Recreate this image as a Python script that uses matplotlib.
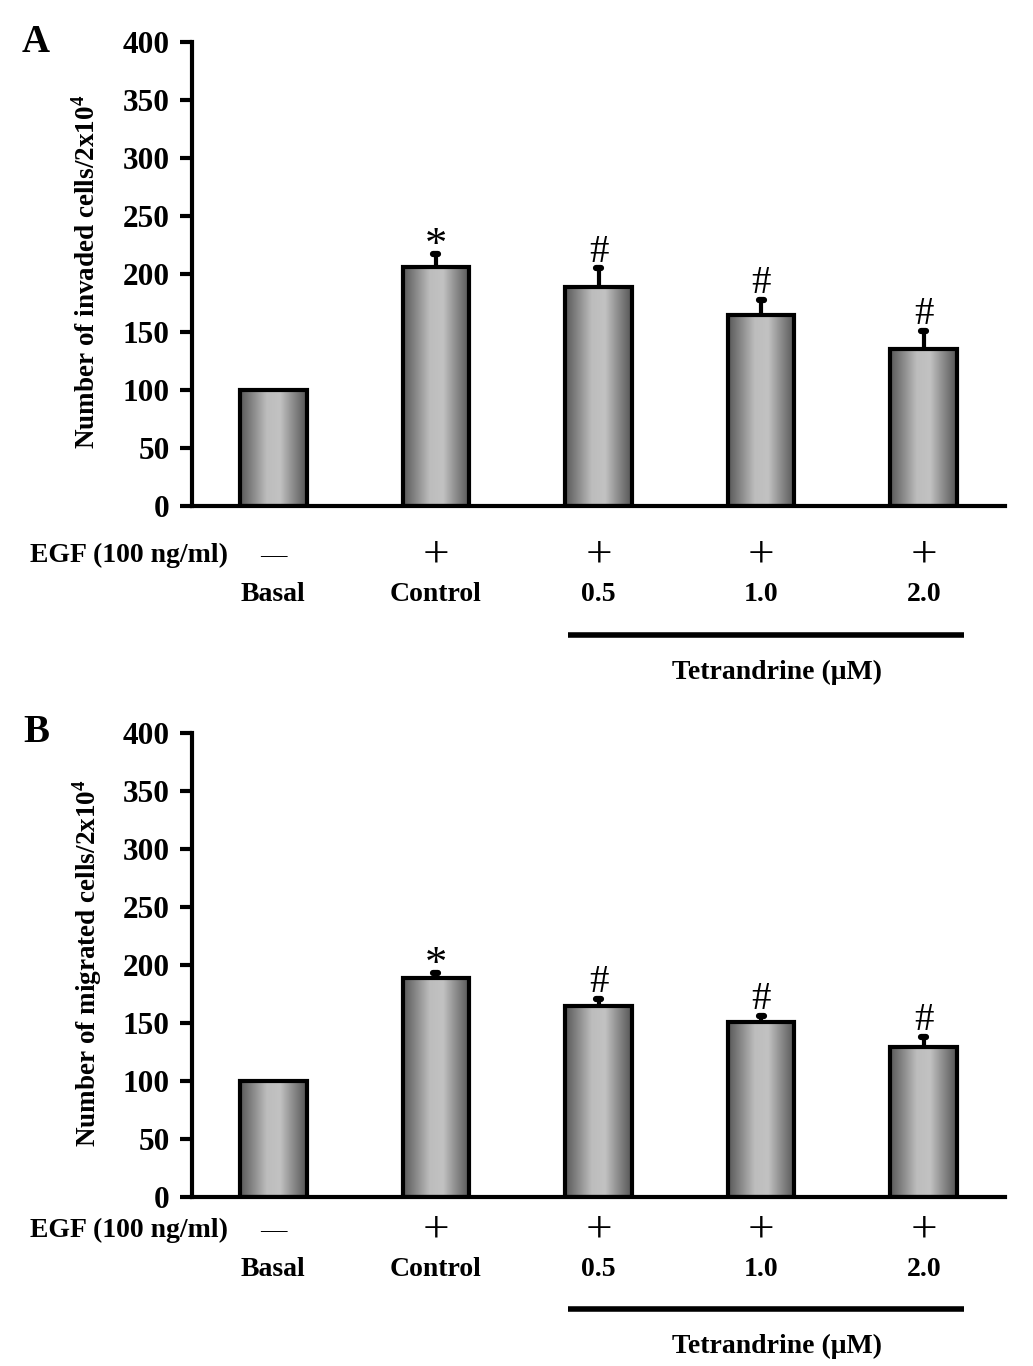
import numpy as np
import matplotlib
matplotlib.use("Agg")
import matplotlib.pyplot as plt
from matplotlib.colors import LinearSegmentedColormap

plt.rcParams['font.family'] = ['Liberation Serif', 'DejaVu Serif']
plt.rcParams['mathtext.fontset'] = 'custom'
plt.rcParams['mathtext.rm'] = 'Liberation Serif:bold'
plt.rcParams['mathtext.bf'] = 'Liberation Serif:bold'

# data
groups = ["Basal", "Control", "0.5", "1.0", "2.0"]
egf = ["\u2014", "+", "+", "+", "+"]
invaded = [100, 206, 189, 165, 135]
invaded_err = [0, 11, 16, 13, 16]
migrated = [100, 189, 165, 151, 129]
migrated_err = [0, 4, 6, 5, 9]
marks = ["", "*", "#", "#", "#"]

grad_cmap = LinearSegmentedColormap.from_list(
    "bar", ["#585858", "#8a8a8a", "#bdbdbd", "#c2c2c2", "#8a8a8a", "#555555"])
grad = np.linspace(0, 1, 256).reshape(1, -1)

fig = plt.figure(figsize=(10.33, 13.66), dpi=100)
W, H = 1033, 1366


def panel(rect, vals, errs, letter, ylabel, rows):
    ax = fig.add_axes(rect)
    x = np.arange(len(vals))
    w = 0.41
    for xi, v in zip(x, vals):
        ax.imshow(grad, extent=(xi - w / 2, xi + w / 2, 0, v), aspect='auto',
                  cmap=grad_cmap, zorder=1, interpolation='bilinear')
    ax.bar(x, vals, width=w, facecolor='none', edgecolor='black', linewidth=3, zorder=2)
    # upper error bars only
    for xi, v, er in zip(x, vals, errs):
        if er > 0:
            ax.plot([xi, xi], [v, v + er], color='black', lw=3, zorder=3,
                    solid_capstyle='butt')
            ax.plot([xi - 0.015, xi + 0.015], [v + er, v + er], color='black',
                    lw=4.5, zorder=3, solid_capstyle='round')
    for xi, v, er, m in zip(x, vals, errs, marks):
        if m == '*':
            ax.text(xi, v + er - 10, m, ha='center', va='bottom', fontsize=32)
        elif m:
            ax.text(xi, v + er - 2, m, ha='center', va='bottom', fontsize=28)
    ax.set_xlim(-0.5, 4.5)
    ax.set_ylim(0, 400)
    ax.set_yticks(np.arange(0, 401, 50))
    ax.set_xticks([])
    ax.spines['top'].set_visible(False)
    ax.spines['right'].set_visible(False)
    ax.spines['left'].set_linewidth(3)
    ax.spines['bottom'].set_linewidth(3)
    ax.tick_params(axis='y', length=9, width=3, pad=7, labelsize=22.5)
    for t in ax.get_yticklabels():
        t.set_fontweight('bold')
    ax.text(-0.129, 0.505, ylabel, transform=ax.transAxes, rotation=90,
            ha='center', va='center', fontsize=19.5, fontweight='bold')
    ax.text(-0.192, 1.0, letter, transform=ax.transAxes, ha='center', va='center',
            fontsize=28, fontweight='bold')

    y_egf, y_lab, y_line, y_tet = rows
    tr = ax.get_xaxis_transform()
    ax.text(-0.199, y_egf, "EGF (100 ng/ml)", transform=ax.transAxes, ha='left',
            va='center', fontsize=20, fontweight='bold')
    for xi, s in zip(x, egf):
        ax.text(xi, y_egf, s, transform=tr, ha='center', va='center',
                fontsize=34 if s == '+' else 19, fontweight='normal', clip_on=False)
    for xi, g in zip(x, groups):
        ax.text(xi, y_lab, g, transform=tr, ha='center', va='center',
                fontsize=20, fontweight='bold', clip_on=False)
    ax.plot([1.81, 4.25], [y_line, y_line], transform=tr, color='black',
            linewidth=4, clip_on=False, solid_capstyle='butt')
    ax.text(3.10, y_tet, "Tetrandrine (\u03bcM)", transform=tr, ha='center',
            va='center', fontsize=20, fontweight='bold', clip_on=False)
    return ax


left = 192 / W
width = (1005 - 192) / W
height = 464 / H

panel([left, 1 - 506 / H, width, height], invaded, invaded_err, "A",
      "Number of invaded cells/2x10$^{4}$", (-0.106, -0.19, -0.278, -0.358))
panel([left, 1 - 1197 / H, width, height], migrated, migrated_err, "B",
      "Number of migrated cells/2x10$^{4}$", (-0.071, -0.157, -0.241, -0.323))

fig.savefig("out.png", dpi=100)
